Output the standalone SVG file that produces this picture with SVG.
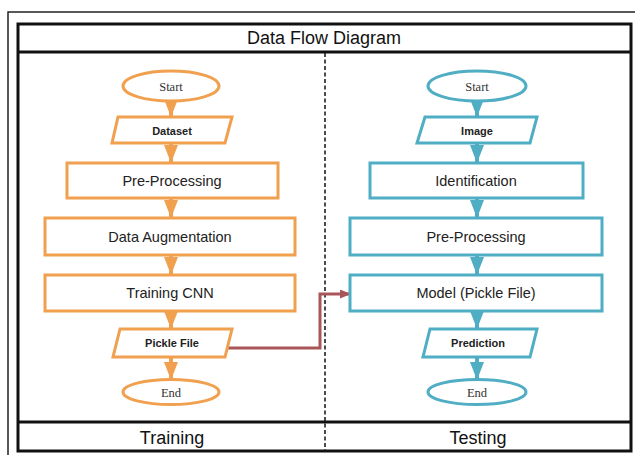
<svg xmlns="http://www.w3.org/2000/svg" width="635" height="455" viewBox="0 0 635 455">
<defs>
<style>
.o{fill:#fff;stroke:#F0A04E;stroke-width:3}
.t{fill:#fff;stroke:#4FADC4;stroke-width:3}
.frame{fill:none;stroke:#111;stroke-width:3}
.lbl{font-family:"Liberation Sans",Arial,sans-serif;font-size:14.5px;fill:#222;text-anchor:middle}
.io{font-family:"Liberation Sans",Arial,sans-serif;font-size:11px;font-weight:bold;fill:#222;text-anchor:middle}
.term{font-family:"Liberation Serif","Times New Roman",serif;font-size:12.5px;fill:#333;text-anchor:middle}
.big{font-family:"Liberation Sans",Arial,sans-serif;font-size:18px;fill:#111;text-anchor:middle}
.co{stroke:#F0A04E;stroke-width:4;fill:none}
.ct{stroke:#4FADC4;stroke-width:4;fill:none}
</style>
<marker id="ao" markerUnits="userSpaceOnUse" markerWidth="18" markerHeight="14" viewBox="0 0 18 14" refX="18" refY="7" orient="auto">
<path d="M0,0 L18,7 L0,14 Z" fill="#F0A04E"/>
</marker>
<marker id="at" markerUnits="userSpaceOnUse" markerWidth="18" markerHeight="14" viewBox="0 0 18 14" refX="18" refY="7" orient="auto">
<path d="M0,0 L18,7 L0,14 Z" fill="#4FADC4"/>
</marker>
<marker id="ar" markerUnits="userSpaceOnUse" markerWidth="11" markerHeight="9" viewBox="0 0 11 9" refX="11" refY="4.5" orient="auto">
<path d="M0,0 L11,4.5 L0,9 Z" fill="#A9565A"/>
</marker>
</defs>
<rect width="635" height="455" fill="#fff"/>
<g id="frame">
<path d="M8,460 V12 H640" fill="none" stroke="#222" stroke-width="1.5"/>
<rect class="frame" x="18" y="24" width="613" height="427"/>
<line x1="18" y1="52" x2="631" y2="52" stroke="#111" stroke-width="3"/>
<line x1="18" y1="422" x2="631" y2="422" stroke="#111" stroke-width="3"/>
<line x1="325" y1="53" x2="325" y2="450" stroke="#111" stroke-width="1.5" stroke-dasharray="4,2.5"/>
<text class="big" x="324" y="44">Data Flow Diagram</text>
<text class="big" x="172" y="444">Training</text>
<text class="big" x="478" y="444">Testing</text>
</g>
<g id="connectors">
<line class="co" x1="171" y1="100" x2="171" y2="117" marker-end="url(#ao)"/>
<line class="co" x1="171" y1="144" x2="171" y2="163" marker-end="url(#ao)"/>
<line class="co" x1="171" y1="199" x2="171" y2="218" marker-end="url(#ao)"/>
<line class="co" x1="171" y1="256" x2="171" y2="275" marker-end="url(#ao)"/>
<line class="co" x1="171" y1="312" x2="171" y2="329" marker-end="url(#ao)"/>
<line class="co" x1="171" y1="358" x2="171" y2="380" marker-end="url(#ao)"/>
<line class="ct" x1="477" y1="100" x2="477" y2="117" marker-end="url(#at)"/>
<line class="ct" x1="477" y1="144" x2="477" y2="163" marker-end="url(#at)"/>
<line class="ct" x1="477" y1="199" x2="477" y2="218" marker-end="url(#at)"/>
<line class="ct" x1="477" y1="256" x2="477" y2="275" marker-end="url(#at)"/>
<line class="ct" x1="477" y1="312" x2="477" y2="329" marker-end="url(#at)"/>
<line class="ct" x1="477" y1="358" x2="477" y2="380" marker-end="url(#at)"/>
<path d="M227,348 H320 V294 H351" fill="none" stroke="#A9565A" stroke-width="3" marker-end="url(#ar)"/>
</g>
<g id="train-start"><ellipse class="o" cx="171" cy="86" rx="48" ry="15"/><text class="term" x="171" y="91">Start</text></g>
<g id="train-dataset"><polygon class="o" points="118,117 232,117 225,143 112,143"/><text class="io" x="172" y="135">Dataset</text></g>
<g id="train-preprocessing"><rect class="o" x="67" y="163" width="211" height="35"/><text class="lbl" x="172" y="186">Pre-Processing</text></g>
<g id="train-augmentation"><rect class="o" x="45" y="218" width="250" height="37"/><text class="lbl" x="170" y="242">Data Augmentation</text></g>
<g id="train-cnn"><rect class="o" x="45" y="275" width="250" height="36"/><text class="lbl" x="170" y="298">Training CNN</text></g>
<g id="train-pickle"><polygon class="o" points="120,329 232,329 225,357 113,357"/><text class="io" x="172" y="347">Pickle File</text></g>
<g id="train-end"><ellipse class="o" cx="171" cy="392" rx="48" ry="12.5"/><text class="term" x="171" y="396.5">End</text></g>
<g id="test-start"><ellipse class="t" cx="477" cy="86" rx="49" ry="15"/><text class="term" x="477" y="91">Start</text></g>
<g id="test-image"><polygon class="t" points="425,117 537,117 530,143 417,143"/><text class="io" x="477" y="135">Image</text></g>
<g id="test-identification"><rect class="t" x="370" y="163" width="213" height="35"/><text class="lbl" x="476" y="186">Identification</text></g>
<g id="test-preprocessing"><rect class="t" x="350" y="218" width="252" height="37"/><text class="lbl" x="476" y="242">Pre-Processing</text></g>
<g id="test-model"><rect class="t" x="350" y="275" width="252" height="36"/><text class="lbl" x="476" y="298">Model (Pickle File)</text></g>
<g id="test-prediction"><polygon class="t" points="430,329 537,329 530,357 423,357"/><text class="io" x="478" y="347">Prediction</text></g>
<g id="test-end"><ellipse class="t" cx="477" cy="392" rx="49" ry="12.5"/><text class="term" x="477" y="396.5">End</text></g>
</svg>
